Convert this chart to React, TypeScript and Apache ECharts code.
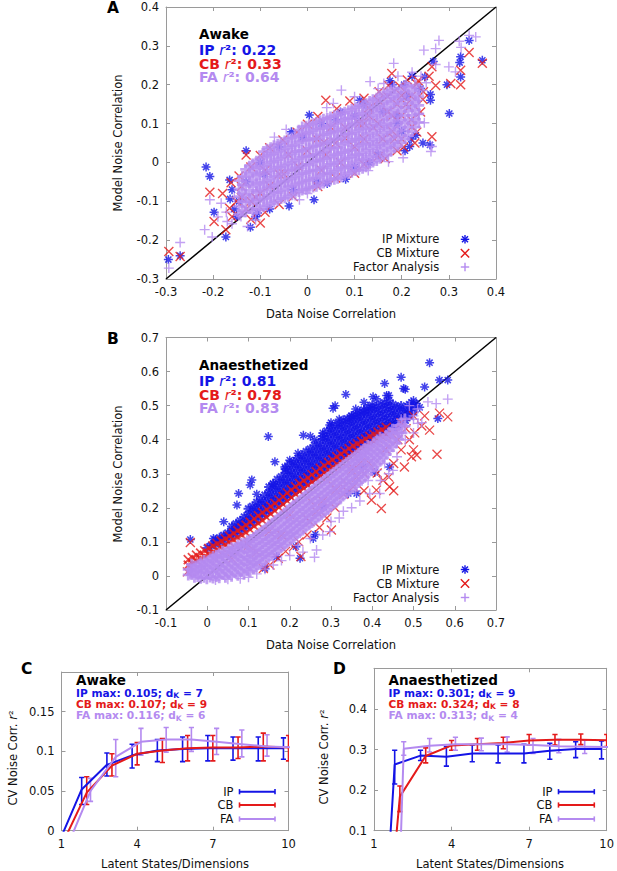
import React, { useEffect, useRef } from "react";
import * as echarts from "echarts";

const FONT = "DejaVu Sans";
const BLUE = "#1414e6";
const RED = "#e41a1a";
const PURPLE = "#b48af0";
const FRAME = "#9a9a9a";
const INK = "#111111";

// ---------- Panel A (Awake): scatter readings ----------
const awakeIP: number[][] = [
  [-0.295, -0.25], [-0.27, -0.24], [-0.215, -0.012], [-0.207, -0.036], [-0.198, -0.128], [-0.165, -0.045],
  [-0.164, -0.094], [-0.173, -0.192], [-0.13, 0.03], [-0.121, -0.167], [-0.106, -0.13], [-0.034, 0.079],
  [0.014, -0.096], [-0.039, -0.112], [0.042, -0.054], [0.081, -0.043], [0.004, 0.122], [0.111, 0.16],
  [0.207, 0.03], [0.217, 0.041], [0.249, 0.22], [0.267, 0.26], [0.301, 0.126], [0.296, 0.2], [0.323, 0.257],
  [0.325, 0.272], [0.343, 0.314], [0.371, 0.263], [0.325, 0.22], [0.245, 0.05], [0.261, 0.16], [0.261, 0.175],
  [0.23, 0.07], [0.22, 0.06], [0.2, 0.08], [0.19, 0.12], [0.175, 0.21], [0.18, 0.2], [0.16, 0.13], [0.15, 0.02],
  [0.12, 0.15], [0.1, 0.12], [0.06, 0.11], [0.03, 0.1], [-0.01, 0.065], [-0.06, 0.04], [-0.1, 0.0], [-0.13, -0.05],
  [-0.145, -0.1], [-0.11, -0.14], [-0.08, -0.12], [-0.03, -0.07], [0.02, -0.05], [0.1, -0.012], [0.13, 0.0],
  [-0.15, -0.14], [-0.16, -0.07], [0.21, 0.17], [0.24, 0.19], [0.26, 0.045], [0.222, 0.222], [-0.155, -0.12],
  [0.07, 0.13], [-0.09, -0.03], [0.19, 0.1], [0.205, 0.2],
];
const awakeCB: number[][] = [
  [-0.294, -0.229], [-0.27, -0.242], [-0.207, -0.077], [-0.198, -0.152], [-0.173, -0.173], [-0.1, -0.156],
  [-0.13, 0.019], [0.039, 0.16], [0.343, 0.283], [0.371, 0.255], [0.325, 0.237], [0.264, 0.246], [0.264, 0.066],
  [0.204, 0.04], [0.165, 0.01], [0.1, -0.028], [0.304, 0.203], [0.179, 0.229], [0.325, 0.2], [0.258, 0.222],
  [0.272, 0.198], [0.232, 0.202], [0.245, 0.162], [0.2, 0.172], [0.215, 0.142], [0.222, 0.092], [0.232, 0.078],
  [0.185, 0.06], [0.15, 0.015], [0.12, -0.005], [0.06, -0.04], [0.022, -0.062], [-0.03, -0.088], [-0.06, -0.108],
  [-0.09, -0.128], [-0.12, -0.146], [-0.15, -0.1], [-0.162, -0.052], [-0.14, -0.062], [-0.165, -0.118],
  [-0.12, -0.012], [-0.1, 0.018], [-0.08, 0.038], [-0.052, 0.058], [-0.022, 0.078], [0.0, 0.098], [0.022, 0.118],
  [0.062, 0.138], [0.09, 0.158], [0.12, 0.165], [0.152, 0.182], [0.172, 0.198], [0.212, 0.212], [0.196, 0.196],
  [0.035, 0.052], [0.08, 0.062], [0.12, 0.1], [-0.05, -0.03], [0.24, 0.13], [0.246, 0.182], [0.18, 0.12],
  [0.19, 0.03], [0.228, 0.05], [0.2, 0.06], [-0.13, -0.12], [-0.11, -0.09], [0.15, 0.16], [0.13, 0.14],
  [-0.145, -0.035], [-0.16, -0.14], [-0.18, -0.08], [0.22, 0.17], [0.235, 0.21],
  // CB points inside the core, showing through the FA marks
  [0.15, 0.1], [0.17, 0.13], [0.19, 0.15], [0.2, 0.12], [0.18, 0.08], [0.16, 0.06], [0.14, 0.09], [0.12, 0.06],
  [0.1, 0.04], [0.08, 0.09], [0.06, 0.05], [0.04, 0.02], [0.02, 0.06], [0.0, 0.03], [-0.02, -0.01], [-0.04, 0.02],
  [-0.06, -0.03], [-0.08, -0.06], [-0.1, -0.08], [-0.12, -0.1], [-0.14, -0.09], [-0.09, -0.02], [0.03, -0.02],
  [0.07, 0.0], [0.11, 0.1], [0.13, 0.12], [0.21, 0.15], [0.22, 0.11], [0.17, 0.17], [0.05, 0.09],
];
// dense core of the FA cloud, read column by column: [x, [y...]]
const awakeFACore: [number, number[]][] = [
  [-0.145, [-0.134, -0.113, -0.088, -0.069, -0.047]],
  [-0.138, [-0.124, -0.101, -0.079, -0.057, -0.036]],
  [-0.131, [-0.127, -0.101, -0.083, -0.06, -0.037, -0.018]],
  [-0.123, [-0.118, -0.094, -0.072, -0.051, -0.029, -0.01]],
  [-0.116, [-0.129, -0.106, -0.087, -0.063, -0.044, -0.024, -0.004]],
  [-0.108, [-0.122, -0.1, -0.078, -0.058, -0.036, -0.016, 0.003]],
  [-0.101, [-0.12, -0.096, -0.074, -0.054, -0.031, -0.013, 0.009]],
  [-0.093, [-0.114, -0.093, -0.071, -0.051, -0.029, -0.009, 0.013, 0.028]],
  [-0.086, [-0.111, -0.089, -0.066, -0.047, -0.025, -0.005, 0.017, 0.034]],
  [-0.078, [-0.106, -0.085, -0.063, -0.043, -0.021, 0.0, 0.02, 0.038]],
  [-0.071, [-0.102, -0.079, -0.06, -0.037, -0.017, 0.003, 0.023, 0.043]],
  [-0.063, [-0.098, -0.077, -0.055, -0.035, -0.013, 0.007, 0.027, 0.047]],
  [-0.056, [-0.093, -0.073, -0.051, -0.031, -0.011, 0.011, 0.031, 0.051]],
  [-0.048, [-0.091, -0.069, -0.049, -0.027, -0.007, 0.015, 0.035, 0.055]],
  [-0.041, [-0.087, -0.063, -0.045, -0.021, -0.003, 0.019, 0.039, 0.061]],
  [-0.033, [-0.083, -0.061, -0.041, -0.019, 0.001, 0.023, 0.043, 0.063]],
  [-0.026, [-0.079, -0.057, -0.037, -0.015, 0.005, 0.027, 0.045, 0.067]],
  [-0.018, [-0.075, -0.054, -0.033, -0.013, 0.009, 0.029, 0.051, 0.069, 0.083]],
  [-0.011, [-0.071, -0.051, -0.029, -0.009, 0.013, 0.031, 0.055, 0.073, 0.091]],
  [-0.003, [-0.069, -0.047, -0.027, -0.005, 0.015, 0.035, 0.057, 0.075, 0.093]],
  [0.004, [-0.065, -0.045, -0.023, -0.005, 0.017, 0.037, 0.059, 0.077, 0.097]],
  [0.012, [-0.063, -0.041, -0.021, 0.001, 0.019, 0.041, 0.061, 0.081, 0.1]],
  [0.019, [-0.061, -0.039, -0.019, 0.003, 0.021, 0.043, 0.061, 0.085, 0.103]],
  [0.027, [-0.057, -0.035, -0.015, 0.005, 0.025, 0.045, 0.067, 0.087, 0.107]],
  [0.034, [-0.053, -0.031, -0.013, 0.009, 0.027, 0.049, 0.071, 0.089, 0.111]],
  [0.042, [-0.049, -0.029, -0.009, 0.011, 0.033, 0.051, 0.073, 0.093, 0.113]],
  [0.049, [-0.045, -0.027, -0.005, 0.015, 0.037, 0.055, 0.077, 0.095, 0.117]],
  [0.057, [-0.043, -0.023, -0.003, 0.019, 0.037, 0.059, 0.079, 0.099, 0.12]],
  [0.064, [-0.041, -0.019, 0.001, 0.021, 0.039, 0.061, 0.081, 0.103, 0.123]],
  [0.072, [-0.037, -0.015, 0.005, 0.025, 0.045, 0.065, 0.085, 0.107, 0.126]],
  [0.079, [-0.033, -0.013, 0.009, 0.027, 0.049, 0.071, 0.089, 0.111, 0.129]],
  [0.087, [-0.029, -0.009, 0.011, 0.031, 0.053, 0.073, 0.093, 0.113, 0.133]],
  [0.094, [-0.025, -0.007, 0.015, 0.033, 0.055, 0.075, 0.097, 0.115, 0.137]],
  [0.102, [-0.021, -0.001, 0.019, 0.039, 0.059, 0.079, 0.099, 0.121, 0.141]],
  [0.109, [-0.019, 0.003, 0.021, 0.043, 0.061, 0.083, 0.103, 0.123, 0.145]],
  [0.117, [-0.015, 0.007, 0.025, 0.047, 0.065, 0.087, 0.107, 0.127, 0.147]],
  [0.124, [-0.011, 0.009, 0.031, 0.049, 0.071, 0.089, 0.111, 0.131, 0.151]],
  [0.132, [-0.005, 0.015, 0.035, 0.055, 0.075, 0.095, 0.117, 0.137, 0.157]],
  [0.139, [0.001, 0.019, 0.041, 0.059, 0.081, 0.099, 0.121, 0.141, 0.161]],
  [0.147, [0.005, 0.025, 0.045, 0.065, 0.087, 0.105, 0.127, 0.145, 0.165]],
  [0.154, [0.011, 0.031, 0.049, 0.071, 0.093, 0.111, 0.133, 0.151, 0.171]],
  [0.162, [0.017, 0.037, 0.055, 0.077, 0.097, 0.117, 0.137, 0.157, 0.176]],
  [0.169, [0.021, 0.043, 0.061, 0.083, 0.101, 0.123, 0.143, 0.165, 0.181]],
  [0.177, [0.029, 0.049, 0.069, 0.089, 0.109, 0.129, 0.151, 0.169, 0.186]],
  [0.184, [0.037, 0.055, 0.077, 0.095, 0.117, 0.135, 0.157, 0.175, 0.191]],
  [0.192, [0.043, 0.063, 0.083, 0.103, 0.123, 0.143, 0.163, 0.181]],
  [0.199, [0.051, 0.069, 0.091, 0.109, 0.131, 0.151, 0.169, 0.189]],
  [0.207, [0.061, 0.081, 0.101, 0.121, 0.141, 0.161, 0.181, 0.197]],
  [0.214, [0.069, 0.091, 0.109, 0.133, 0.151, 0.173, 0.193]],
  [0.222, [0.079, 0.101, 0.121, 0.143, 0.163, 0.185]],
  [0.229, [0.091, 0.111, 0.135, 0.155, 0.177, 0.199]],
  [0.236, [0.103, 0.125, 0.147, 0.169, 0.191]],
];
const awakeFAOut: number[][] = [
  [-0.294, -0.272], [-0.27, -0.206], [-0.218, -0.173], [-0.207, -0.096], [-0.202, -0.192], [-0.17, -0.152],
  [-0.141, -0.139], [-0.127, -0.165], [-0.172, -0.128], [-0.16, -0.158], [-0.155, -0.09], [-0.183, -0.105],
  [-0.19, -0.14], [0.129, -0.021], [0.264, 0.041], [0.262, 0.028], [0.343, 0.327], [0.357, 0.323], [0.279, 0.314],
  [0.247, 0.289], [0.272, 0.293], [0.183, 0.255], [0.133, 0.208], [0.072, 0.186], [0.1, 0.169], [0.3, 0.246],
  [0.314, 0.233], [-0.017, -0.096], [0.241, 0.222], [0.252, 0.205], [0.222, 0.232], [0.236, 0.124], [0.248, 0.102],
  [0.192, 0.222], [0.162, 0.203], [0.272, 0.252], [0.322, 0.312], [0.326, 0.296], [0.041, 0.141], [0.203, 0.012],
  [0.172, 0.002], [0.055, 0.152], [-0.07, 0.065], [-0.045, 0.085], [0.15, 0.19], [0.21, 0.205], [0.245, 0.185],
  [0.235, 0.16], [-0.11, -0.148], [0.0, -0.08],
];

// ---------- Panel B (Anaesthetized): scatter readings ----------
const anaesIPCore: [number, number[]][] = [
  [0.0, [0.082]], [0.01, [0.089]], [0.02, [0.094, 0.105]], [0.03, [0.101, 0.112]], [0.04, [0.106, 0.119]],
  [0.05, [0.113, 0.126]], [0.06, [0.118, 0.133, 0.145]], [0.07, [0.125, 0.138, 0.153]], [0.08, [0.132, 0.149, 0.162]],
  [0.09, [0.141, 0.155, 0.173]], [0.1, [0.148, 0.165, 0.18, 0.197]], [0.11, [0.157, 0.172, 0.191, 0.204]],
  [0.12, [0.165, 0.183, 0.199, 0.216]], [0.13, [0.175, 0.191, 0.21, 0.225]], [0.14, [0.183, 0.201, 0.217, 0.237]],
  [0.15, [0.193, 0.209, 0.229, 0.245, 0.261]], [0.16, [0.201, 0.22, 0.236, 0.256, 0.27]],
  [0.17, [0.212, 0.228, 0.248, 0.264, 0.283]], [0.18, [0.219, 0.239, 0.255, 0.275, 0.291]],
  [0.19, [0.23, 0.246, 0.266, 0.282, 0.302, 0.314]], [0.2, [0.237, 0.257, 0.273, 0.293, 0.309, 0.329]],
  [0.21, [0.248, 0.264, 0.284, 0.3, 0.32, 0.335]], [0.22, [0.255, 0.275, 0.291, 0.311, 0.327, 0.346]],
  [0.23, [0.266, 0.282, 0.302, 0.318, 0.338, 0.354]], [0.24, [0.273, 0.293, 0.309, 0.329, 0.345, 0.365]],
  [0.25, [0.284, 0.3, 0.32, 0.336, 0.356, 0.372]], [0.26, [0.291, 0.311, 0.327, 0.347, 0.363, 0.383]],
  [0.27, [0.302, 0.318, 0.338, 0.354, 0.374, 0.391]], [0.28, [0.309, 0.329, 0.345, 0.365, 0.381, 0.402, 0.411]],
  [0.29, [0.319, 0.335, 0.355, 0.371, 0.391, 0.407, 0.425]], [0.3, [0.326, 0.346, 0.362, 0.382, 0.398, 0.418, 0.434]],
  [0.31, [0.336, 0.352, 0.372, 0.388, 0.408, 0.424, 0.443]], [0.32, [0.342, 0.362, 0.378, 0.398, 0.414, 0.434, 0.448]],
  [0.33, [0.352, 0.368, 0.388, 0.404, 0.424, 0.44, 0.457]], [0.34, [0.358, 0.378, 0.394, 0.414, 0.43, 0.45, 0.461]],
  [0.35, [0.367, 0.383, 0.403, 0.419, 0.439, 0.455, 0.469]], [0.36, [0.372, 0.392, 0.408, 0.428, 0.444, 0.464, 0.474]],
  [0.37, [0.381, 0.397, 0.417, 0.433, 0.453, 0.469, 0.482]], [0.38, [0.386, 0.406, 0.422, 0.442, 0.458, 0.478, 0.487]],
  [0.39, [0.395, 0.411, 0.431, 0.447, 0.467, 0.483, 0.495]], [0.4, [0.4, 0.42, 0.436, 0.456, 0.472, 0.492, 0.501]],
  [0.41, [0.409, 0.425, 0.445, 0.461, 0.481, 0.496]], [0.42, [0.413, 0.433, 0.449, 0.469, 0.485, 0.504]],
  [0.43, [0.421, 0.437, 0.457, 0.473, 0.493, 0.508]], [0.44, [0.425, 0.445, 0.461, 0.481, 0.497, 0.515]],
  [0.45, [0.433, 0.449, 0.469, 0.485, 0.503]], [0.46, [0.439, 0.459, 0.475, 0.495]], [0.47, [0.449, 0.465, 0.485, 0.499]],
  [0.48, [0.457, 0.477, 0.493]], [0.49, [0.469, 0.485, 0.503]], [0.5, [0.481, 0.497]],
];
const anaesIPOut: number[][] = [
  [-0.041, 0.107], [0.015, 0.11], [0.04, 0.159], [0.072, 0.208], [0.076, 0.242], [0.104, 0.267], [0.108, 0.282],
  [0.188, 0.32], [0.233, 0.413], [0.25, 0.41], [0.297, 0.443], [0.305, 0.492], [0.31, 0.5], [0.336, 0.533],
  [0.402, 0.526], [0.43, 0.565], [0.435, 0.53], [0.47, 0.583], [0.476, 0.55], [0.48, 0.548], [0.527, 0.555],
  [0.539, 0.626], [0.563, 0.575], [0.583, 0.575], [0.559, 0.462], [0.507, 0.506], [0.225, 0.052], [0.215, 0.086],
  [0.257, 0.11], [0.168, 0.056], [0.406, 0.304], [0.442, 0.32], [0.378, 0.32], [0.262, 0.122], [0.342, 0.242],
  [0.362, 0.242], [0.282, 0.202], [0.14, 0.022], [0.5, 0.515], [0.515, 0.495], [0.495, 0.51], [0.462, 0.442],
  [0.12, 0.24], [0.16, 0.27], [0.2, 0.34], [0.22, 0.36], [0.26, 0.4], [0.28, 0.42], [0.32, 0.46], [0.36, 0.49],
  [0.38, 0.51], [0.41, 0.52], [0.44, 0.53], [0.35, 0.47], [0.3, 0.45], [0.164, 0.335], [0.148, 0.409],
];
const anaesCBCore: [number, number[]][] = [
  [-0.046, [0.032, 0.048]], [-0.036, [0.038, 0.054]], [-0.026, [0.045, 0.061]], [-0.016, [0.051, 0.067]],
  [-0.006, [0.058, 0.074]], [0.004, [0.064, 0.081]], [0.014, [0.07, 0.088]], [0.024, [0.077, 0.095]],
  [0.034, [0.084, 0.102]], [0.044, [0.091, 0.109]], [0.054, [0.099, 0.117]], [0.064, [0.106, 0.125]],
  [0.074, [0.113, 0.133]], [0.084, [0.12, 0.141]], [0.094, [0.127, 0.149]], [0.104, [0.136, 0.158]],
  [0.114, [0.146, 0.168]], [0.124, [0.154, 0.177]], [0.134, [0.163, 0.186]], [0.144, [0.172, 0.195]],
  [0.154, [0.182, 0.204]], [0.164, [0.191, 0.213]], [0.174, [0.201, 0.223]], [0.184, [0.21, 0.233]],
  [0.194, [0.22, 0.244]], [0.204, [0.23, 0.253]], [0.214, [0.24, 0.262]], [0.224, [0.248, 0.271]],
  [0.234, [0.257, 0.28]], [0.244, [0.266, 0.288]], [0.254, [0.276, 0.297]], [0.264, [0.284, 0.306]],
  [0.274, [0.292, 0.316]], [0.284, [0.302, 0.324]], [0.294, [0.311, 0.333]], [0.304, [0.319, 0.341]],
  [0.314, [0.328, 0.35]], [0.324, [0.336, 0.358]], [0.334, [0.345, 0.366]], [0.344, [0.352, 0.374]],
  [0.354, [0.36, 0.382]], [0.364, [0.368, 0.388]], [0.374, [0.376, 0.395]], [0.384, [0.383, 0.402]],
  [0.394, [0.39, 0.41]], [0.404, [0.397, 0.416]], [0.414, [0.404, 0.422]], [0.424, [0.41, 0.429]],
  [0.434, [0.416, 0.436]],
];
const anaesCBOut: number[][] = [
  [-0.048, 0.012], [-0.041, 0.098], [0.136, 0.022], [0.209, 0.086], [0.227, 0.057], [0.301, 0.135], [0.354, 0.262],
  [0.398, 0.223], [0.422, 0.198], [0.426, 0.281], [0.442, 0.262], [0.478, 0.32], [0.495, 0.35], [0.508, 0.355],
  [0.557, 0.357], [0.539, 0.428], [0.583, 0.467], [0.563, 0.478], [0.527, 0.47], [0.249, 0.159], [0.265, 0.189],
  [0.44, 0.29], [0.452, 0.33], [0.47, 0.37], [0.49, 0.4], [0.503, 0.42], [0.462, 0.4], [0.38, 0.25], [0.362, 0.29],
  [0.331, 0.24], [0.31, 0.2], [0.29, 0.17], [0.272, 0.142], [0.242, 0.12], [0.222, 0.1], [0.19, 0.072],
  [0.172, 0.052], [0.152, 0.032], [0.311, 0.252], [0.412, 0.302], [0.432, 0.372], [0.392, 0.332], [0.52, 0.44],
  [0.482, 0.432], [0.5, 0.37], [0.41, 0.252], [0.452, 0.25], [0.33, 0.28], [0.35, 0.31], [0.37, 0.33], [0.5, 0.47],
  [0.47, 0.45], [0.455, 0.42], [0.1, 0.09], [0.15, 0.13], [0.2, 0.18], [0.25, 0.22], [0.3, 0.27], [0.35, 0.32],
  [0.06, 0.05], [0.12, 0.07], [0.18, 0.12], [0.24, 0.17], [0.28, 0.22], [0.33, 0.26], [0.38, 0.3],
];
const anaesFACore: [number, number[]][] = [
  [-0.046, [0.003, 0.019]], [-0.038, [0.004, 0.02, 0.034]], [-0.031, [-0.004, 0.013, 0.029]],
  [-0.023, [-0.002, 0.016, 0.032]], [-0.016, [-0.007, 0.009, 0.025, 0.039]], [-0.008, [-0.004, 0.015, 0.032, 0.045]],
  [-0.001, [-0.008, 0.008, 0.024, 0.042]], [0.007, [-0.003, 0.017, 0.035, 0.05]],
  [0.014, [-0.006, 0.011, 0.027, 0.044, 0.057]], [0.022, [-0.002, 0.019, 0.037, 0.055, 0.061]],
  [0.029, [-0.005, 0.013, 0.029, 0.047, 0.065]], [0.037, [0.004, 0.022, 0.041, 0.059, 0.072]],
  [0.044, [-0.004, 0.014, 0.032, 0.052, 0.069]], [0.052, [0.006, 0.026, 0.044, 0.063, 0.078]],
  [0.059, [-0.001, 0.017, 0.035, 0.055, 0.071, 0.083]], [0.067, [0.009, 0.029, 0.047, 0.065, 0.083]],
  [0.074, [0.002, 0.021, 0.037, 0.057, 0.073, 0.091]], [0.082, [0.012, 0.032, 0.05, 0.069, 0.087, 0.095]],
  [0.089, [0.005, 0.023, 0.043, 0.059, 0.079, 0.097]], [0.097, [0.017, 0.035, 0.054, 0.072, 0.09, 0.103]],
  [0.104, [0.013, 0.033, 0.049, 0.069, 0.085, 0.107]], [0.112, [0.021, 0.041, 0.059, 0.077, 0.095, 0.113]],
  [0.119, [0.027, 0.043, 0.063, 0.079, 0.099, 0.119]], [0.127, [0.034, 0.052, 0.07, 0.088, 0.106, 0.126]],
  [0.134, [0.039, 0.059, 0.075, 0.095, 0.111, 0.133]], [0.142, [0.047, 0.065, 0.083, 0.101, 0.119, 0.14]],
  [0.149, [0.055, 0.071, 0.091, 0.107, 0.127, 0.147]], [0.157, [0.061, 0.079, 0.097, 0.115, 0.133, 0.155]],
  [0.164, [0.067, 0.087, 0.103, 0.123, 0.139, 0.162]], [0.172, [0.075, 0.093, 0.111, 0.129, 0.147, 0.17]],
  [0.179, [0.083, 0.099, 0.119, 0.135, 0.155, 0.177]], [0.187, [0.09, 0.108, 0.126, 0.144, 0.163, 0.185]],
  [0.194, [0.097, 0.117, 0.133, 0.153, 0.171, 0.193]], [0.202, [0.105, 0.123, 0.141, 0.159, 0.177, 0.2]],
  [0.209, [0.113, 0.129, 0.149, 0.167, 0.185, 0.207]], [0.217, [0.12, 0.138, 0.157, 0.175, 0.193, 0.215]],
  [0.224, [0.127, 0.147, 0.163, 0.183, 0.201, 0.222]], [0.232, [0.135, 0.153, 0.171, 0.189, 0.207, 0.23]],
  [0.239, [0.143, 0.161, 0.179, 0.197, 0.215, 0.237]], [0.247, [0.15, 0.169, 0.187, 0.205, 0.223, 0.245]],
  [0.254, [0.157, 0.177, 0.193, 0.213, 0.231, 0.252]], [0.262, [0.165, 0.184, 0.201, 0.219, 0.239, 0.26]],
  [0.269, [0.173, 0.191, 0.209, 0.227, 0.245, 0.267]], [0.277, [0.18, 0.199, 0.217, 0.235, 0.253, 0.275]],
  [0.284, [0.187, 0.207, 0.223, 0.243, 0.261, 0.283]], [0.292, [0.195, 0.214, 0.232, 0.25, 0.268, 0.29]],
  [0.299, [0.203, 0.221, 0.239, 0.257, 0.275, 0.297]], [0.307, [0.211, 0.229, 0.247, 0.265, 0.283, 0.304]],
  [0.314, [0.217, 0.237, 0.253, 0.273, 0.291, 0.311]], [0.322, [0.226, 0.245, 0.262, 0.28, 0.299, 0.318]],
  [0.329, [0.235, 0.251, 0.271, 0.287, 0.307, 0.325]], [0.337, [0.242, 0.26, 0.278, 0.296, 0.314, 0.332]],
  [0.344, [0.249, 0.269, 0.285, 0.305, 0.321, 0.339]], [0.352, [0.258, 0.276, 0.294, 0.312, 0.33, 0.346]],
  [0.359, [0.267, 0.283, 0.303, 0.319, 0.339, 0.353]], [0.367, [0.274, 0.292, 0.31, 0.328, 0.346, 0.36]],
  [0.374, [0.281, 0.301, 0.317, 0.337, 0.353, 0.367]], [0.382, [0.29, 0.309, 0.327, 0.345, 0.362, 0.375]],
  [0.389, [0.299, 0.317, 0.337, 0.355, 0.371, 0.383]], [0.397, [0.309, 0.327, 0.346, 0.364, 0.381]],
  [0.404, [0.319, 0.337, 0.355, 0.373, 0.391]], [0.412, [0.328, 0.347, 0.365, 0.383, 0.399]],
  [0.419, [0.337, 0.357, 0.373, 0.393, 0.407]], [0.427, [0.347, 0.366, 0.385, 0.403]],
  [0.434, [0.357, 0.377, 0.395, 0.413]], [0.442, [0.368, 0.387, 0.406, 0.422]],
  [0.449, [0.379, 0.397, 0.417, 0.431]], [0.457, [0.39, 0.41, 0.43]], [0.464, [0.401, 0.421, 0.441]],
  [0.472, [0.42, 0.445]], [0.479, [0.439, 0.461]],
];
const anaesFAOut: number[][] = [
  [0.265, 0.076], [0.297, 0.13], [0.394, 0.242], [0.418, 0.242], [0.44, 0.3], [0.46, 0.35], [0.48, 0.4], [0.5, 0.47],
  [0.49, 0.5], [0.51, 0.49], [0.535, 0.511], [0.555, 0.506], [0.583, 0.519], [0.511, 0.448], [0.47, 0.46],
  [0.232, 0.07], [0.2, 0.06], [0.18, 0.045], [0.25, 0.11], [0.35, 0.2], [0.37, 0.22], [0.43, 0.33], [0.45, 0.31],
  [0.5, 0.42], [0.52, 0.45], [0.42, 0.28], [0.3, 0.16], [0.32, 0.17], [0.16, 0.032], [0.14, 0.02], [0.12, 0.006],
  [0.1, -0.004], [0.08, -0.008], [0.05, -0.01], [0.02, -0.012], [-0.04, 0.012], [0.26, 0.055], [0.22, 0.09],
  [0.28, 0.12], [0.33, 0.19], [0.36, 0.25], [0.39, 0.28], [0.41, 0.31], [0.46, 0.39], [0.48, 0.44], [0.5, 0.46],
  [0.47, 0.42],
];

// ---------- Panels C & D: CV noise correlation r^2 vs latent dimensions ----------
const dims = [1, 2, 3, 4, 5, 6, 7, 8, 9, 10];
const awakeIPMean = [-0.022, 0.052, 0.083, 0.095, 0.101, 0.103, 0.104, 0.104, 0.104, 0.104];
const awakeIPLo = [-0.04, 0.033, 0.069, 0.079, 0.087, 0.087, 0.088, 0.089, 0.088, 0.09];
const awakeIPHi = [-0.005, 0.067, 0.098, 0.109, 0.115, 0.118, 0.12, 0.118, 0.118, 0.117];
const awakeCBMean = [-0.019, 0.048, 0.082, 0.097, 0.101, 0.104, 0.105, 0.105, 0.106, 0.105];
const awakeCBLo = [-0.04, 0.033, 0.069, 0.083, 0.086, 0.088, 0.088, 0.091, 0.088, 0.088];
const awakeCBHi = [-0.005, 0.068, 0.097, 0.111, 0.116, 0.12, 0.12, 0.118, 0.123, 0.12];
const awakeFAMean = [-0.026, 0.05, 0.093, 0.112, 0.115, 0.115, 0.112, 0.109, 0.106, 0.105];
const awakeFALo = [-0.045, 0.037, 0.068, 0.095, 0.099, 0.1, 0.096, 0.093, 0.094, 0.09];
const awakeFAHi = [-0.008, 0.066, 0.115, 0.129, 0.13, 0.13, 0.129, 0.127, 0.121, 0.12];

const anaesIPMean = [-0.79, 0.263, 0.285, 0.282, 0.29, 0.29, 0.29, 0.297, 0.301, 0.301];
const anaesIPLo = [-0.85, 0.215, 0.273, 0.259, 0.27, 0.267, 0.267, 0.276, 0.28, 0.277];
const anaesIPHi = [-0.7, 0.298, 0.298, 0.307, 0.311, 0.311, 0.313, 0.315, 0.319, 0.321];
const anaesCBMean = [-0.52, 0.184, 0.284, 0.31, 0.313, 0.316, 0.322, 0.324, 0.324, 0.323];
const anaesCBLo = [-0.6, 0.147, 0.267, 0.298, 0.298, 0.302, 0.311, 0.311, 0.312, 0.307];
const anaesCBHi = [-0.45, 0.21, 0.304, 0.322, 0.327, 0.33, 0.337, 0.337, 0.338, 0.337];
const anaesFAMean = [-1.68, 0.302, 0.309, 0.313, 0.313, 0.313, 0.311, 0.308, 0.307, 0.306];
const anaesFALo = [-1.75, 0.286, 0.294, 0.298, 0.297, 0.294, 0.29, 0.292, 0.29, 0.29];
const anaesFAHi = [-1.6, 0.319, 0.327, 0.33, 0.328, 0.331, 0.327, 0.325, 0.323, 0.322];

// horizontal offsets gnuplot used to separate the three models
const IP_SHIFT = -0.2;
const CB_SHIFT = 0;
const FA_SHIFT = 0.15;

const SYM_PLUS = "path://M5,0L5,10M0,5L10,5";
const SYM_CROSS = "path://M0,0L10,10M0,10L10,0";
const SYM_STAR = "path://M5,0L5,10M0,5L10,5M1.6,1.6L8.4,8.4M1.6,8.4L8.4,1.6";

const flatCols = (c: [number, number[]][]) => c.flatMap(([x, ys]) => ys.map((y) => [x, y]));

function measure(text: string, font: string) {
  const ctx = document.createElement("canvas").getContext("2d");
  if (!ctx) return text.length * 6.5;
  ctx.font = font;
  return ctx.measureText(text).width;
}

function axisPair(g: number, horizontal: boolean, min: number, max: number, labelVals: number[] | null, tickVals: number[] | null, interval?: number) {
  const tick: any = { show: true, inside: true, length: 4, lineStyle: { color: FRAME, width: 1 } };
  if (tickVals) tick.customValues = tickVals;
  const base: any = {
    type: "value",
    gridIndex: g,
    min,
    max,
    axisLine: { show: true, onZero: false, lineStyle: { color: FRAME, width: 1 } },
    axisTick: tick,
    splitLine: { show: false },
    splitArea: { show: false },
  };
  if (interval) base.interval = interval;
  const label: any = { color: INK, fontFamily: FONT, fontSize: 11.5, margin: 7 };
  if (labelVals) label.customValues = labelVals;
  return [
    { ...base, position: horizontal ? "bottom" : "left", axisLabel: label },
    { ...base, position: horizontal ? "top" : "right", axisLabel: { show: false } },
  ];
}

function scatter(g: number, name: string, data: number[][], symbol: string, color: string, size: number, lw: number) {
  return {
    type: "scatter",
    name,
    xAxisIndex: 2 * g,
    yAxisIndex: 2 * g,
    data,
    symbol,
    symbolSize: size,
    silent: true,
    clip: true,
    z: 2,
    itemStyle: { color: "rgba(0,0,0,0)", borderColor: color, borderWidth: lw },
  };
}

function diagonal(g: number, lo: number, hi: number) {
  return {
    type: "line",
    xAxisIndex: 2 * g,
    yAxisIndex: 2 * g,
    data: [[lo, lo], [hi, hi]],
    symbol: "none",
    silent: true,
    z: 1,
    lineStyle: { color: "#000", width: 1.5 },
  };
}

function errorBars(g: number, shift: number, lo: number[], hi: number[], color: string) {
  return {
    type: "custom",
    xAxisIndex: 2 * g,
    yAxisIndex: 2 * g,
    clip: true,
    silent: true,
    data: dims.map((d, i) => [d + shift, lo[i], hi[i]]),
    encode: { x: 0, y: [1, 2] },
    renderItem: (params: any, api: any) => {
      const x = api.value(0);
      const a = api.coord([x, api.value(1)]);
      const b = api.coord([x, api.value(2)]);
      const w = 2.6;
      const st = { stroke: color, lineWidth: 1.6 };
      return {
        type: "group",
        children: [
          { type: "line", shape: { x1: a[0], y1: a[1], x2: b[0], y2: b[1] }, style: st },
          { type: "line", shape: { x1: a[0] - w, y1: a[1], x2: a[0] + w, y2: a[1] }, style: st },
          { type: "line", shape: { x1: b[0] - w, y1: b[1], x2: b[0] + w, y2: b[1] }, style: st },
        ],
      };
    },
  };
}

function meanLine(g: number, shift: number, mean: number[], color: string) {
  return {
    type: "line",
    xAxisIndex: 2 * g,
    yAxisIndex: 2 * g,
    data: dims.map((d, i) => [d + shift, mean[i]]),
    symbol: "none",
    clip: true,
    silent: true,
    lineStyle: { color, width: 2 },
  };
}

function txt(x: number, y: number, text: string, extra: any = {}) {
  return {
    type: "text",
    x,
    y,
    silent: true,
    style: {
      text,
      fontFamily: FONT,
      fontSize: 11.5,
      fill: INK,
      align: "left",
      verticalAlign: "middle",
      ...extra,
    },
  };
}

function r2Line(x: number, y: number, label: string, val: string, color: string) {
  return {
    type: "text",
    x,
    y,
    silent: true,
    style: {
      text: `{b|${label} }{i|r}{b|²: ${val}}`,
      align: "left",
      verticalAlign: "middle",
      rich: {
        b: { fontFamily: FONT, fontSize: 14, fontWeight: "bold", fill: color, lineHeight: 13 },
        i: { fontFamily: FONT, fontSize: 14, fontStyle: "italic", fill: color, lineHeight: 13 },
      },
    },
  };
}

const MAX_FS = 10.6;
const SUB_FS = 7.6;
function maxLine(x: number, y: number, label: string, val: string, k: number, color: string) {
  const head = `${label} max: ${val}; d`;
  const w1 = measure(head, `bold ${MAX_FS}px "${FONT}"`);
  const w2 = measure("K", `bold ${SUB_FS}px "${FONT}"`);
  const bold = { fontSize: MAX_FS, fontWeight: "bold", fill: color };
  return {
    type: "group",
    silent: true,
    children: [
      txt(x, y, head, bold),
      txt(x + w1, y + 2.8, "K", { fontSize: SUB_FS, fontWeight: "bold", fill: color }),
      txt(x + w1 + w2, y, ` = ${k}`, bold),
    ],
  };
}

function glyph(kind: string, cx: number, cy: number, color: string) {
  const s = 4.2;
  const d = 3;
  let segs: number[][];
  if (kind === "plus") segs = [[0, -s, 0, s], [-s, 0, s, 0]];
  else if (kind === "cross") segs = [[-s, -s, s, s], [-s, s, s, -s]];
  else segs = [[0, -s, 0, s], [-s, 0, s, 0], [-d, -d, d, d], [-d, d, d, -d]];
  return {
    type: "group",
    silent: true,
    children: segs.map(([a, b, c, e]) => ({
      type: "line",
      shape: { x1: cx + a, y1: cy + b, x2: cx + c, y2: cy + e },
      style: { stroke: color, lineWidth: 1.4 },
    })),
  };
}

function errLegend(x1: number, x2: number, y: number, color: string) {
  return {
    type: "group",
    silent: true,
    children: [
      { type: "line", shape: { x1, y1: y, x2, y2: y }, style: { stroke: color, lineWidth: 2 } },
      { type: "line", shape: { x1, y1: y - 2.6, x2: x1, y2: y + 2.6 }, style: { stroke: color, lineWidth: 1.6 } },
      { type: "line", shape: { x1: x2, y1: y - 2.6, x2, y2: y + 2.6 }, style: { stroke: color, lineWidth: 1.6 } },
    ],
  };
}

function yTitleCV(x: number, y: number) {
  return {
    type: "text",
    x,
    y,
    rotation: Math.PI / 2,
    silent: true,
    style: {
      text: "{n|CV Noise Corr. }{i|r}{n|²}",
      align: "center",
      verticalAlign: "middle",
      rich: {
        n: { fontFamily: FONT, fontSize: 11.5, fill: INK },
        i: { fontFamily: FONT, fontSize: 11.5, fontStyle: "italic", fill: INK },
      },
    },
  };
}

function buildOption() {
  const grids = [
    { left: 166, top: 7, width: 330, height: 272 },
    { left: 166, top: 337.5, width: 330, height: 272.5 },
    { left: 61.5, top: 672, width: 227, height: 158.7 },
    { left: 374, top: 668.3, width: 233.7, height: 162.4 },
  ];
  const xAxis = [
    ...axisPair(0, true, -0.3, 0.4, null, null, 0.1),
    ...axisPair(1, true, -0.1, 0.7, null, null, 0.1),
    ...axisPair(2, true, 1, 10, [1, 4, 7, 10], [1, 4, 7, 10]),
    ...axisPair(3, true, 1, 10, [1, 4, 7, 10], [1, 4, 7, 10]),
  ];
  const yAxis = [
    ...axisPair(0, false, -0.3, 0.4, null, null, 0.1),
    ...axisPair(1, false, -0.1, 0.7, null, null, 0.1),
    ...axisPair(2, false, 0, 0.2, [0, 0.05, 0.1, 0.15], [0, 0.05, 0.1, 0.15, 0.2]),
    ...axisPair(3, false, 0.1, 0.5, [0.1, 0.2, 0.3, 0.4], [0.1, 0.2, 0.3, 0.4, 0.5]),
  ];

  const series: any[] = [
    diagonal(0, -0.3, 0.4),
    scatter(0, "IP Mixture", awakeIP, SYM_STAR, BLUE, 9, 1.5),
    scatter(0, "CB Mixture", awakeCB, SYM_CROSS, RED, 9, 1.4),
    scatter(0, "Factor Analysis", flatCols(awakeFACore), SYM_PLUS, PURPLE, 11, 2.8),
    scatter(0, "Factor Analysis", awakeFAOut, SYM_PLUS, PURPLE, 10, 1.4),
    diagonal(1, -0.1, 0.7),
    scatter(1, "IP Mixture", flatCols(anaesIPCore), SYM_STAR, BLUE, 10, 2.0),
    scatter(1, "IP Mixture", anaesIPOut, SYM_STAR, BLUE, 9, 1.5),
    scatter(1, "CB Mixture", flatCols(anaesCBCore), SYM_CROSS, RED, 9, 1.7),
    scatter(1, "CB Mixture", anaesCBOut, SYM_CROSS, RED, 9, 1.3),
    scatter(1, "Factor Analysis", flatCols(anaesFACore), SYM_PLUS, PURPLE, 11, 2.8),
    scatter(1, "Factor Analysis", anaesFAOut, SYM_PLUS, PURPLE, 10, 1.4),

    errorBars(2, IP_SHIFT, awakeIPLo, awakeIPHi, BLUE),
    meanLine(2, IP_SHIFT, awakeIPMean, BLUE),
    errorBars(2, CB_SHIFT, awakeCBLo, awakeCBHi, RED),
    meanLine(2, CB_SHIFT, awakeCBMean, RED),
    errorBars(2, FA_SHIFT, awakeFALo, awakeFAHi, PURPLE),
    meanLine(2, FA_SHIFT, awakeFAMean, PURPLE),

    errorBars(3, IP_SHIFT, anaesIPLo, anaesIPHi, BLUE),
    meanLine(3, IP_SHIFT, anaesIPMean, BLUE),
    errorBars(3, CB_SHIFT, anaesCBLo, anaesCBHi, RED),
    meanLine(3, CB_SHIFT, anaesCBMean, RED),
    errorBars(3, FA_SHIFT, anaesFALo, anaesFAHi, PURPLE),
    meanLine(3, FA_SHIFT, anaesFAMean, PURPLE),
  ];

  const bold15 = { fontSize: 15.5, fontWeight: "bold", fill: "#000" };
  const head = { fontSize: 13.5, fontWeight: "bold", fill: "#000" };
  const graphic: any[] = [
    txt(107, 8, "A", bold15),
    txt(107, 339, "B", bold15),
    txt(21, 669, "C", bold15),
    txt(333, 669, "D", bold15),

    txt(199, 33.5, "Awake", head),
    r2Line(199, 50, "IP", "0.22", BLUE),
    r2Line(199, 63.7, "CB", "0.33", RED),
    r2Line(199, 77.4, "FA", "0.64", PURPLE),
    txt(199, 365, "Anaesthetized", head),
    r2Line(199, 381, "IP", "0.81", BLUE),
    r2Line(199, 394.7, "CB", "0.78", RED),
    r2Line(199, 408.4, "FA", "0.83", PURPLE),

    txt(439.3, 239.3, "IP Mixture", { align: "right" }),
    glyph("star", 465, 239.3, BLUE),
    txt(439.3, 253.3, "CB Mixture", { align: "right" }),
    glyph("cross", 465, 253.3, RED),
    txt(439.3, 267, "Factor Analysis", { align: "right" }),
    glyph("plus", 465, 267, PURPLE),
    txt(439.3, 569.5, "IP Mixture", { align: "right" }),
    glyph("star", 465, 569.5, BLUE),
    txt(439.3, 583.5, "CB Mixture", { align: "right" }),
    glyph("cross", 465, 583.5, RED),
    txt(439.3, 597.5, "Factor Analysis", { align: "right" }),
    glyph("plus", 465, 597.5, PURPLE),

    txt(331, 313.5, "Data Noise Correlation", { align: "center" }),
    { ...txt(117.5, 143, "Model Noise Correlation", { align: "center" }), rotation: Math.PI / 2 },
    txt(331, 644.5, "Data Noise Correlation", { align: "center" }),
    { ...txt(117.5, 474, "Model Noise Correlation", { align: "center" }), rotation: Math.PI / 2 },

    txt(76, 680, "Awake", head),
    maxLine(76, 692.7, "IP", "0.105", 7, BLUE),
    maxLine(76, 704, "CB", "0.107", 9, RED),
    maxLine(76, 715.4, "FA", "0.116", 6, PURPLE),
    txt(388.5, 680, "Anaesthetized", head),
    maxLine(388.5, 692.7, "IP", "0.301", 9, BLUE),
    maxLine(388.5, 704, "CB", "0.324", 8, RED),
    maxLine(388.5, 715.4, "FA", "0.313", 4, PURPLE),

    txt(233.5, 791.7, "IP", { align: "right" }),
    errLegend(239.5, 275, 791.7, BLUE),
    txt(233.5, 805, "CB", { align: "right" }),
    errLegend(239.5, 275, 805, RED),
    txt(233.5, 819, "FA", { align: "right" }),
    errLegend(239.5, 275, 819, PURPLE),
    txt(552.5, 791.7, "IP", { align: "right" }),
    errLegend(558.5, 594.3, 791.7, BLUE),
    txt(552.5, 805, "CB", { align: "right" }),
    errLegend(558.5, 594.3, 805, RED),
    txt(552.5, 819, "FA", { align: "right" }),
    errLegend(558.5, 594.3, 819, PURPLE),

    txt(175, 863.5, "Latent States/Dimensions", { align: "center" }),
    txt(490, 863.5, "Latent States/Dimensions", { align: "center" }),
    yTitleCV(12.5, 758),
    yTitleCV(324, 757),
  ];

  return {
    animation: false,
    backgroundColor: "#ffffff",
    textStyle: { fontFamily: FONT },
    grid: grids,
    xAxis,
    yAxis,
    series,
    graphic,
  };
}

export default function App() {
  const ref = useRef<HTMLDivElement>(null);
  useEffect(() => {
    if (!ref.current) return;
    const chart = echarts.init(ref.current, null, { renderer: "svg" });
    chart.setOption(buildOption() as any);
    return () => chart.dispose();
  }, []);
  return (
    <div
      ref={ref}
      style={{ position: "absolute", left: 0, top: 0, width: 617, height: 871, background: "#fff" }}
    />
  );
}
